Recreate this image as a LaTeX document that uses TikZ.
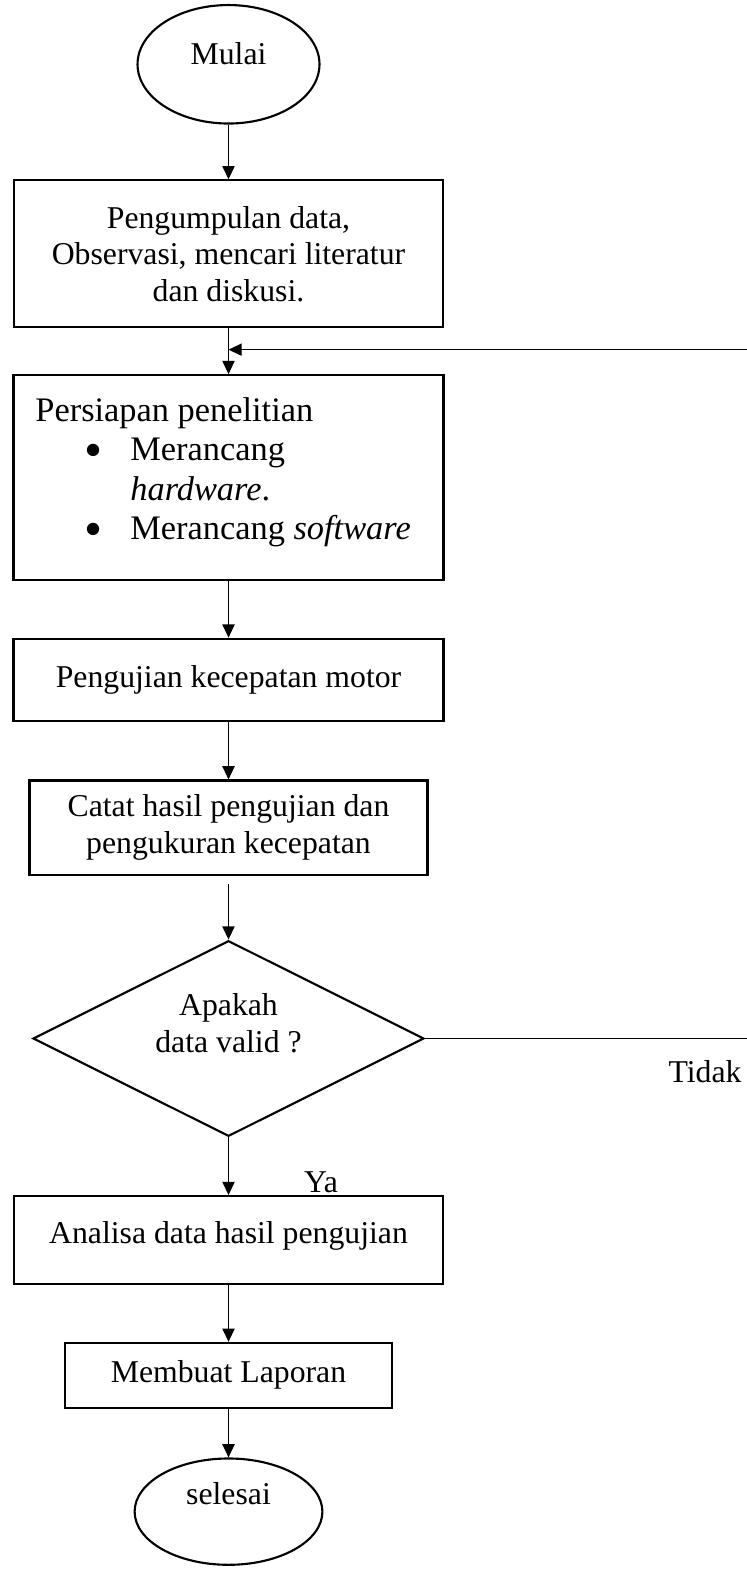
\documentclass[tikz,border=0pt]{standalone}
\usepackage{fontspec}
\setmainfont{Liberation Serif}
\usepackage{graphicx}
\usepackage{tikz}
\usetikzlibrary{shapes.geometric, positioning, arrows.meta}

\tikzset{
  proses/.style={draw, rectangle, line width=0.8pt, inner sep=0pt, align=center},
  terminal/.style={draw, ellipse, line width=0.8pt, inner sep=0pt},
  keputusan/.style={draw, diamond, aspect=2, line width=0.8pt, inner sep=0pt},
  naik/.style={text height=8.5pt, text depth=#1},
  naik/.default=9.5pt,
  panah/.style={-{Triangle[length=5pt,width=4.6pt]}, line width=0.55pt}
}
\newcommand{\titik}{\makebox[17.4pt][l]{\raisebox{-2.4pt}{\scalebox{1.5}{\textbullet}}}}

\begin{document}
\begin{tikzpicture}
	[font=\fontsize{12}{13.8}\selectfont]
   \useasboundingbox (0,0) rectangle (282.4pt,-600.8pt);
   \node[terminal, naik=8.6pt, minimum width=68.8pt, minimum height=44.8pt] (mulai) at (86.4pt,-24.3pt) {Mulai};
   \node[proses, minimum width=162pt, minimum height=55.6pt] (kumpul) [below=20.7pt of mulai] {Pengumpulan data,\\ Observasi, mencari literatur\\ dan diskusi.};
   \node[proses] (siap) [below=17.25pt of kumpul] {\parbox[c][77.4pt][t]{162.6pt}{\fontsize{13}{14.9}\selectfont\vspace*{8.5pt}%
     \hspace*{8.3pt}Persiapan penelitian\\
     \hspace*{26.8pt}\titik Merancang\\
     \hspace*{44.2pt}\textit{hardware}.\\
     \hspace*{26.8pt}\titik Merancang \textit{software}}};
   \node[proses, minimum width=162.6pt, minimum height=31pt] (uji) [below=21.45pt of siap] {Pengujian kecepatan motor};
   \node[proses, minimum width=150.5pt, minimum height=35.6pt] (catat) [below=21.8pt of uji] {Catat hasil pengujian dan\\ pengukuran kecepatan};
   \node[keputusan, minimum width=147.8pt, minimum height=74pt] (cek) [below=24.15pt of catat] {\raisebox{1.4pt}[0pt][0pt]{\begin{tabular}{@{}c@{}}Apakah\\ data valid ?\end{tabular}}};
   \node[proses, naik=6.3pt, minimum width=162pt, minimum height=33.3pt] (analisa) [below=21.8pt of cek] {Analisa data hasil pengujian};
   \node[proses, minimum width=123.5pt, minimum height=24.5pt] (laporan) [below=21.4pt of analisa] {Membuat Laporan};
   \node[terminal, naik=13.9pt, minimum width=71pt, minimum height=40.2pt] (selesai) [below=18.4pt of laporan] {selesai};
   \coordinate (balik) at (282.4pt,-132.2pt);
   \coordinate (tepi) at (282.4pt,0pt);
    \path[panah]
    (mulai) edge (kumpul)
    (kumpul) edge (siap)
    (siap) edge (uji)
    (uji) edge (catat)
    (catat) edge [shorten <=3pt] (cek)
    (cek) edge node[pos=0.78, right=28.3pt, inner sep=0pt] {Ya} (analisa)
    (analisa) edge (laporan)
    (laporan) edge (selesai);
   % jalur kembali jika data tidak valid
   \draw[panah] (balik) -- (balik -| kumpul.south);
   \draw[line width=0.55pt] (cek.east) -- node[pos=0.87, below=8pt, inner sep=0pt] {Tidak} (cek.east -| tepi);
\end{tikzpicture}
\end{document}
